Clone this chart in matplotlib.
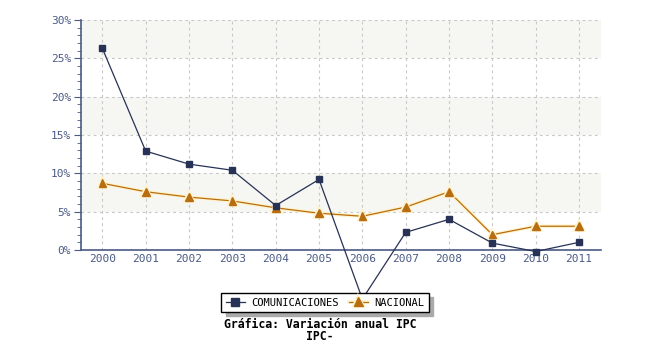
import matplotlib
matplotlib.use("Agg")
import matplotlib.pyplot as plt
from matplotlib.ticker import MultipleLocator, FuncFormatter
import matplotlib.patheffects as pe

years = ["2000", "2001", "2002", "2003", "2004", "2005", "2006", "2007", "2008", "2009", "2010", "2011"]
comunicaciones = [26.3, 12.9, 11.2, 10.4, 5.8, 9.2, -6.4, 2.3, 4.0, 0.9, -0.2, 1.0]
nacional = [8.7, 7.6, 6.9, 6.4, 5.5, 4.8, 4.4, 5.6, 7.6, 2.0, 3.1, 3.1]
series_names = ["COMUNICACIONES", "NACIONAL"]
title_lines = ["Gráfica: Variación anual IPC", "IPC-"]

axis_col = "#4a5a85"
navy = "#283256"
orange = "#b86e10"

fig = plt.figure(figsize=(6.5, 3.5), dpi=100)
ax = fig.add_axes([80.7 / 650, 1 - 250 / 350, 520 / 650, 230 / 350])

x = list(range(len(years)))
ax.set_xlim(-0.5, len(years) - 0.5)
ax.set_ylim(0, 30)

# alternating bands
for lo in (5, 15, 25):
    ax.axhspan(lo, lo + 5, color="#f6f6f2", zorder=0, lw=0)

ax.grid(True, which="major", color="#c8c8c8", linestyle=(0, (2.5, 3)), linewidth=0.8, zorder=1)
ax.set_axisbelow(True)

ax.plot(x, nacional, color=orange, lw=0.9, marker="^", ms=5.5, zorder=3,
        clip_on=False, label=series_names[1],
        path_effects=[pe.Stroke(linewidth=2.6, foreground="#fff3cc"), pe.Normal()])
ax.plot(x, comunicaciones, color=navy, lw=0.9, marker="s", ms=4.5, zorder=4,
        clip_on=False, label=series_names[0])

ax.set_xticks(x)
ax.set_xticklabels(years)
ax.yaxis.set_major_locator(MultipleLocator(5))
ax.yaxis.set_minor_locator(MultipleLocator(1))
ax.yaxis.set_major_formatter(FuncFormatter(lambda v, p: f"{int(round(v))}%"))

for s in ("top", "right"):
    ax.spines[s].set_visible(False)
for s in ("left", "bottom"):
    ax.spines[s].set_color(axis_col)
    ax.spines[s].set_linewidth(1.2)

ax.tick_params(axis="y", which="major", length=5, color=axis_col, labelcolor=axis_col,
               labelsize=8, pad=2)
ax.tick_params(axis="y", which="minor", length=3, color=axis_col)
ax.tick_params(axis="x", length=0, labelcolor=axis_col, labelsize=8, pad=3)
for lab in ax.get_xticklabels() + ax.get_yticklabels():
    lab.set_family("DejaVu Sans Mono")

handles, labels = ax.get_legend_handles_labels()
order = [1, 0]
leg = fig.legend([handles[i] for i in order], [labels[i] for i in order],
                 loc="center", bbox_to_anchor=(325 / 650, 1 - 302.5 / 350), ncol=2,
                 frameon=True, fancybox=False,
                 shadow={"color": "#aaaaaa", "alpha": 1, "ox": 3, "oy": -3},
                 edgecolor="black", facecolor="white", framealpha=1,
                 prop={"family": "DejaVu Sans Mono", "size": 7.5},
                 handlelength=1.8, handletextpad=0.6, columnspacing=1.0,
                 borderpad=0.45, markerscale=1.15)
leg.get_frame().set_linewidth(1.0)
leg.set_zorder(10)

fig.text(320 / 650, 1 - 325 / 350, title_lines[0], ha="center", va="center",
         family="DejaVu Sans Mono", weight="bold", fontsize=8.3)
fig.text(320 / 650, 1 - 337 / 350, title_lines[1], ha="center", va="center",
         family="DejaVu Sans Mono", weight="bold", fontsize=8.3)

fig.savefig("out.png", dpi=100)
